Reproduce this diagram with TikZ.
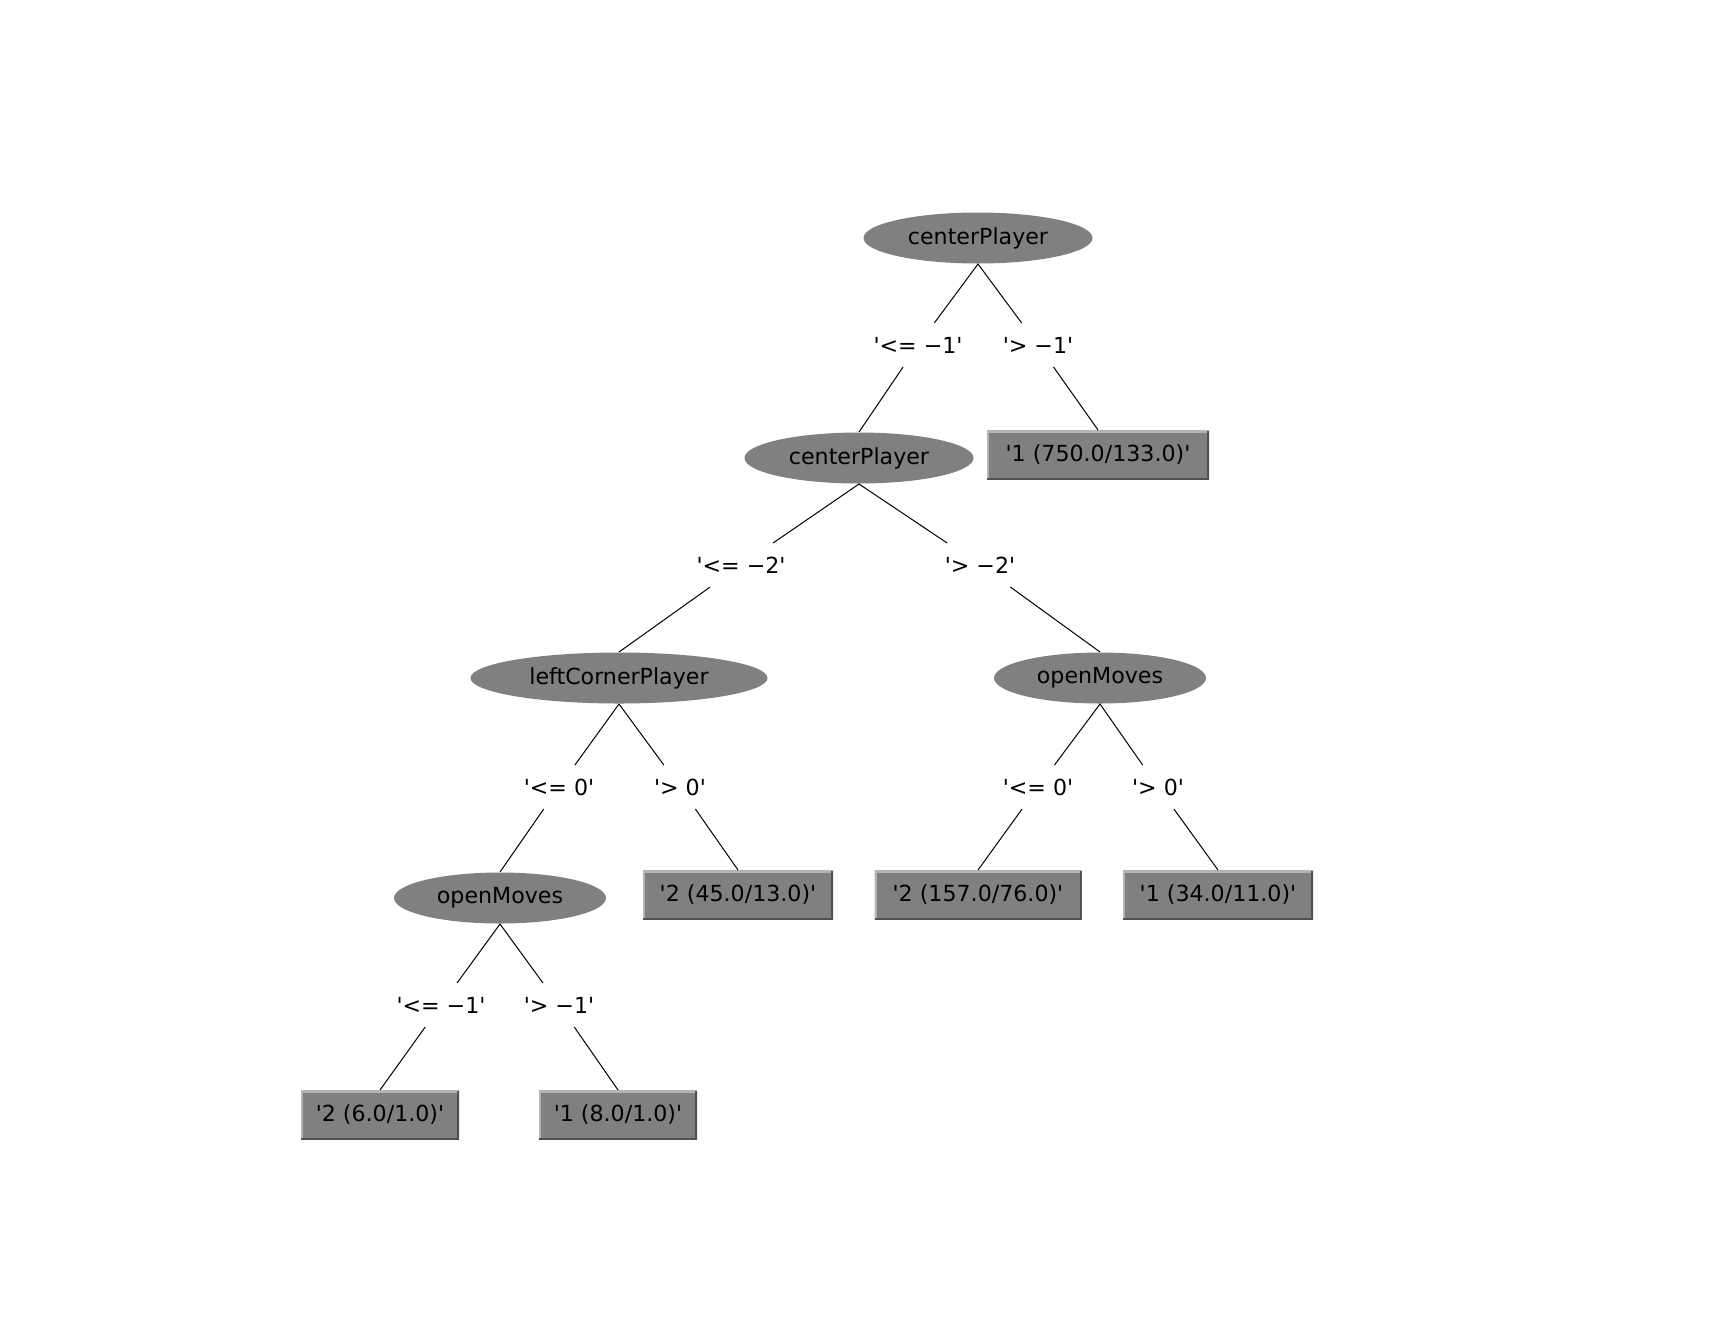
\documentclass[tikz,border=0pt]{standalone}
\usepackage{fontspec}
\setmainfont{DejaVu Sans}
\usetikzlibrary{shapes}

\definecolor{wgray}{HTML}{808080}
\definecolor{wlight}{HTML}{B4B4B4}
\definecolor{wdark}{HTML}{505050}
\newcommand{\q}{\textquotesingle}

\begin{document}
\begin{tikzpicture}[x=0.1mm, y=-0.1mm, line width=0.1mm,
    every node/.style={font=\fontsize{6.3}{7}\selectfont, text=black},
    split/.style={ellipse, fill=wgray, inner sep=0pt, minimum height=5.1mm},
    leaf/.style={rectangle, fill=wgray, inner sep=0pt, minimum height=4.9mm,
      path picture={
        \draw[wlight, line width=0.4mm] (path picture bounding box.south west) -- (path picture bounding box.north west) -- (path picture bounding box.north east);
        \draw[wdark, line width=0.4mm] (path picture bounding box.north east) -- (path picture bounding box.south east) -- (path picture bounding box.south west);
      }},
    cond/.style={inner xsep=0pt, inner ysep=0pt, minimum height=4.3mm}]
      \useasboundingbox (0, 0) rectangle (1734, 1332);

      % Noeuds
      \node[split, minimum width=22.9mm] (root) at (978, 238) {centerPlayer};
      \node[split, minimum width=22.9mm] (cp) at (859, 458) {centerPlayer};
      \node[leaf, minimum width=22.2mm] (l750) at (1098, 455) {\q1 (750.0/133.0)\q};
      \node[split, minimum width=29.7mm] (lcp) at (619, 678) {leftCornerPlayer};
      \node[split, minimum width=21.2mm] (omr) at (1100, 678) {openMoves};
      \node[split, minimum width=21.2mm] (oml) at (500, 898) {openMoves};
      \node[leaf, minimum width=19mm] (l45) at (738, 895) {\q2 (45.0/13.0)\q};
      \node[leaf, minimum width=20.7mm] (l157) at (978, 895) {\q2 (157.0/76.0)\q};
      \node[leaf, minimum width=19mm] (l34) at (1218, 895) {\q1 (34.0/11.0)\q};
      \node[leaf, minimum width=15.8mm] (l6) at (380, 1115) {\q2 (6.0/1.0)\q};
      \node[leaf, minimum width=15.8mm] (l8) at (618, 1115) {\q1 (8.0/1.0)\q};

      % Conditions
      \node[cond] (c1a) at (918, 345) {\q<= −1\q};
      \node[cond] (c1b) at (1038, 345) {\q> −1\q};
      \node[cond] (c2a) at (741, 565) {\q<= −2\q};
      \node[cond] (c2b) at (980, 565) {\q> −2\q};
      \node[cond] (c3a) at (559, 787) {\q<= 0\q};
      \node[cond] (c3b) at (680, 787) {\q> 0\q};
      \node[cond] (c3c) at (1038, 787) {\q<= 0\q};
      \node[cond] (c3d) at (1158, 787) {\q> 0\q};
      \node[cond] (c4a) at (441, 1005) {\q<= −1\q};
      \node[cond] (c4b) at (559, 1005) {\q> −1\q};

      % Branches
      \draw (root.south) -- (c1a) -- (cp.north);
      \draw (root.south) -- (c1b) -- (l750.north);
      \draw (cp.south) -- (c2a) -- (lcp.north);
      \draw (cp.south) -- (c2b) -- (omr.north);
      \draw (lcp.south) -- (c3a) -- (oml.north);
      \draw (lcp.south) -- (c3b) -- (l45.north);
      \draw (omr.south) -- (c3c) -- (l157.north);
      \draw (omr.south) -- (c3d) -- (l34.north);
      \draw (oml.south) -- (c4a) -- (l6.north);
      \draw (oml.south) -- (c4b) -- (l8.north);
    \end{tikzpicture}
\end{document}
